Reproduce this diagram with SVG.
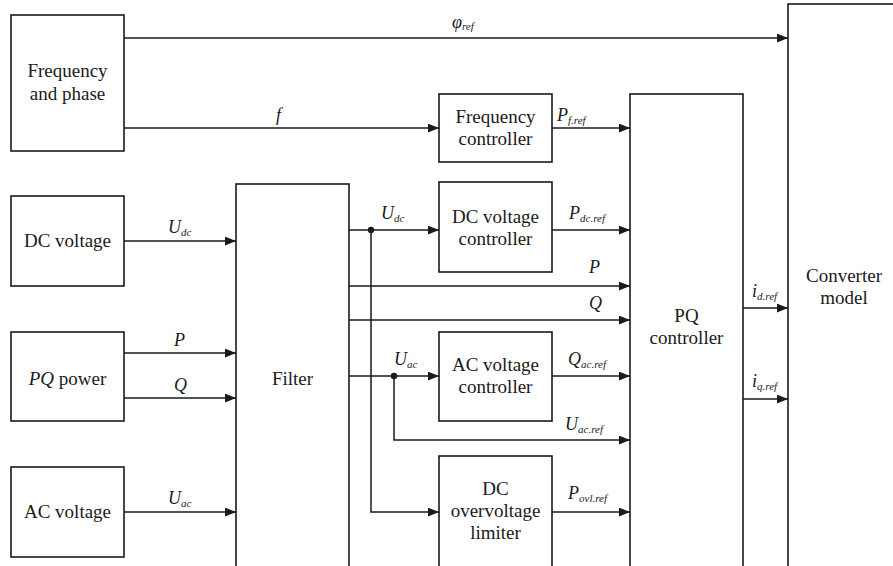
<svg xmlns="http://www.w3.org/2000/svg" width="893" height="566" viewBox="0 0 893 566" font-family="'Liberation Serif', 'Times New Roman', serif">
<defs>
<style>
.box{fill:#fff;stroke:#1a1a1a;stroke-width:1.6}
.ln{fill:none;stroke:#1a1a1a;stroke-width:1.5}
.t{font-family:'Liberation Serif','Times New Roman',serif;font-size:19px;fill:#1a1a1a;text-anchor:middle}
.v{font-family:'Liberation Serif','Times New Roman',serif;font-size:18px;font-style:italic;fill:#1a1a1a}
.s{font-size:11px}
</style>
<marker id="ar" viewBox="0 0 10 8" refX="10" refY="4" markerWidth="11" markerHeight="9" markerUnits="userSpaceOnUse" orient="auto">
<path d="M0,0 L10,4 L0,8 z" fill="#1a1a1a"/>
</marker>
</defs>
<rect width="893" height="566" fill="#fff"/>

<g id="freq_phase"><rect class="box" x="11" y="15" width="113" height="136"/><text class="t" x="67.5" y="77">Frequency</text><text class="t" x="67.5" y="100">and phase</text></g>
<g id="dc_voltage"><rect class="box" x="11" y="196" width="113" height="90"/><text class="t" x="67.5" y="247">DC voltage</text></g>
<g id="pq_power"><rect class="box" x="11" y="332" width="113" height="89"/><text class="t" x="67.5" y="385"><tspan font-style="italic">PQ</tspan> power</text></g>
<g id="ac_voltage"><rect class="box" x="11" y="467" width="113" height="90"/><text class="t" x="67.5" y="518">AC voltage</text></g>
<g id="filter"><rect class="box" x="236" y="184" width="113" height="420"/><text class="t" x="292.5" y="385">Filter</text></g>
<g id="freq_ctrl"><rect class="box" x="439" y="94" width="113" height="68"/><text class="t" x="495.5" y="123">Frequency</text><text class="t" x="495.5" y="145">controller</text></g>
<g id="dc_ctrl"><rect class="box" x="439" y="182" width="113" height="90"/><text class="t" x="495.5" y="223">DC voltage</text><text class="t" x="495.5" y="245">controller</text></g>
<g id="ac_ctrl"><rect class="box" x="439" y="332" width="113" height="89"/><text class="t" x="495.5" y="371">AC voltage</text><text class="t" x="495.5" y="393">controller</text></g>
<g id="dc_ovl"><rect class="box" x="439" y="456" width="113" height="150"/><text class="t" x="495.5" y="495">DC</text><text class="t" x="495.5" y="517">overvoltage</text><text class="t" x="495.5" y="539">limiter</text></g>
<g id="pq_ctrl"><rect class="box" x="630" y="94" width="113" height="500"/><text class="t" x="686.5" y="322">PQ</text><text class="t" x="686.5" y="344">controller</text></g>
<g id="converter"><rect class="box" x="788" y="4" width="130" height="600"/><text class="t" x="844" y="282">Converter</text><text class="t" x="844" y="304">model</text></g>

<g id="connectors">
<path class="ln" marker-end="url(#ar)" d="M124,38 H788"/>
<path class="ln" marker-end="url(#ar)" d="M124,128 H439"/>
<path class="ln" marker-end="url(#ar)" d="M552,128 H630"/>
<path class="ln" marker-end="url(#ar)" d="M124,241 H236"/>
<path class="ln" marker-end="url(#ar)" d="M124,353 H236"/>
<path class="ln" marker-end="url(#ar)" d="M124,398 H236"/>
<path class="ln" marker-end="url(#ar)" d="M124,512 H236"/>
<path class="ln" marker-end="url(#ar)" d="M349,230 H439"/>
<path class="ln" marker-end="url(#ar)" d="M552,230 H630"/>
<path class="ln" marker-end="url(#ar)" d="M349,286 H630"/>
<path class="ln" marker-end="url(#ar)" d="M349,320 H630"/>
<path class="ln" marker-end="url(#ar)" d="M349,376 H439"/>
<path class="ln" marker-end="url(#ar)" d="M552,376 H630"/>
<path class="ln" marker-end="url(#ar)" d="M394,376 V440 H630"/>
<path class="ln" marker-end="url(#ar)" d="M371,230 V512 H439"/>
<path class="ln" marker-end="url(#ar)" d="M552,512 H630"/>
<path class="ln" marker-end="url(#ar)" d="M743,308 H788"/>
<path class="ln" marker-end="url(#ar)" d="M743,399 H788"/>
<circle cx="371" cy="230" r="3.2" fill="#1a1a1a"/>
<circle cx="394" cy="376" r="3.2" fill="#1a1a1a"/>
</g>

<g id="labels">
<text class="v" x="452" y="28">φ<tspan class="s" dy="2">ref</tspan></text>
<text class="v" x="276" y="121">f</text>
<text class="v" x="557" y="121">P<tspan class="s" dy="3">f.ref</tspan></text>
<text class="v" x="168" y="233">U<tspan class="s" dy="3">dc</tspan></text>
<text class="v" x="174" y="346">P</text>
<text class="v" x="174" y="391">Q</text>
<text class="v" x="168" y="504">U<tspan class="s" dy="3">ac</tspan></text>
<text class="v" x="381" y="219">U<tspan class="s" dy="3">dc</tspan></text>
<text class="v" x="569" y="219">P<tspan class="s" dy="3">dc.ref</tspan></text>
<text class="v" x="589" y="273">P</text>
<text class="v" x="589" y="309">Q</text>
<text class="v" x="394" y="365">U<tspan class="s" dy="3">ac</tspan></text>
<text class="v" x="568" y="365">Q<tspan class="s" dy="3">ac.ref</tspan></text>
<text class="v" x="565" y="430">U<tspan class="s" dy="3">ac.ref</tspan></text>
<text class="v" x="568" y="499">P<tspan class="s" dy="3">ovl.ref</tspan></text>
<text class="v" x="752" y="297">i<tspan class="s" dy="3">d.ref</tspan></text>
<text class="v" x="752" y="387">i<tspan class="s" dy="3">q.ref</tspan></text>
</g>
</svg>
